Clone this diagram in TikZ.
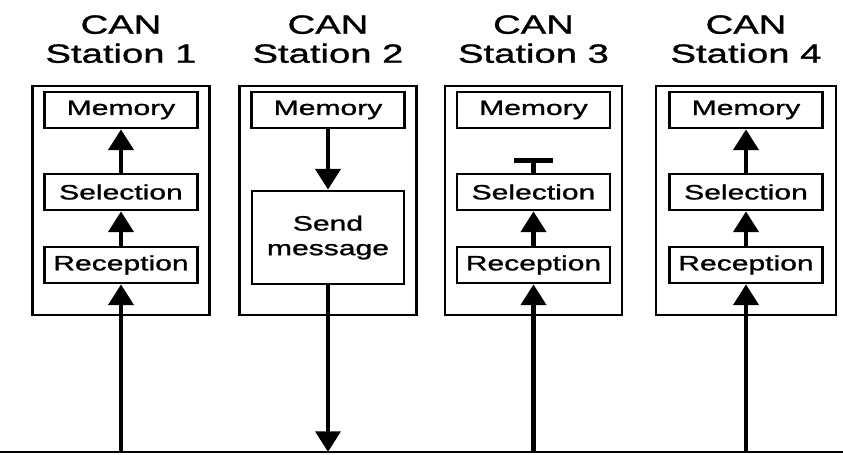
\documentclass[tikz,border=0pt]{standalone}
\usepackage{fontspec}
\newfontfamily\canfont[FakeStretch=1.45,FakeBold=1.2]{Liberation Sans}
\usetikzlibrary{arrows.meta}

\begin{document}
\begin{tikzpicture}[every node/.style={font=\canfont},
  station/.style={draw,line width=1.5pt,minimum width=3.54cm,minimum height=4.58cm,inner sep=0pt},
  unit/.style={draw,line width=1.5pt,minimum width=3.06cm,minimum height=0.72cm,inner sep=0pt,font=\canfont\fontsize{11.8}{14}\selectfont},
  title/.style={align=center,anchor=north,inner sep=0pt,font=\canfont\fontsize{15}{16.5}\selectfont},
  flow/.style={line width=2.8pt,-{Triangle[width=14pt,length=11.8pt]}}]
\useasboundingbox (0,0) rectangle (16.86,9.1);
% bus line
\coordinate (busL) at (0,0.06);
\coordinate (busR) at (16.86,0.06);
\draw[line width=1.2pt] (busL)--(busR);
\coordinate (bus1) at (2.42,0.06);
\coordinate (bus2) at (6.56,0.06);
\coordinate (bus3) at (10.67,0.06);
\coordinate (bus4) at (14.92,0.06);
% Station 1
\node[title] (title1) at (2.42,8.8) {CAN\\Station 1};
\node[station] (box1) at (2.42,5.09) {};
\node[unit] (mem1) at (2.42,6.9) {Memory};
\node[unit] (sel1) at (2.42,5.26) {Selection};
\node[unit] (rec1) at (2.42,3.8) {Reception};
\draw[flow] (bus1)--(rec1.south);
\draw[flow] (rec1.north)--(sel1.south);
\draw[flow] (sel1.north)--(mem1.south);
% Station 2 sends
\node[title] (title2) at (6.56,8.8) {CAN\\Station 2};
\node[station] (box2) at (6.56,5.09) {};
\node[unit] (mem2) at (6.56,6.9) {Memory};
\node[unit,minimum width=3.04cm,minimum height=1.86cm,align=center] (send2) at (6.56,4.35) {Send\\message};
\draw[flow] (mem2.south)--(send2.north);
\draw[flow] (send2.south)--(bus2);
% Station 3 rejects
\node[title] (title3) at (10.67,8.8) {CAN\\Station 3};
\node[station] (box3) at (10.67,5.09) {};
\node[unit] (mem3) at (10.67,6.9) {Memory};
\node[unit] (sel3) at (10.67,5.26) {Selection};
\node[unit] (rec3) at (10.67,3.8) {Reception};
\coordinate (tee3) at (10.67,5.94);
\draw[flow] (bus3)--(rec3.south);
\draw[flow] (rec3.north)--(sel3.south);
\draw[line width=2.8pt,-{Bar[width=22.7pt]}] (sel3.north)--(tee3);
% Station 4
\node[title] (title4) at (14.92,8.8) {CAN\\Station 4};
\node[station,minimum width=3.6cm] (box4) at (14.92,5.09) {};
\node[unit] (mem4) at (14.92,6.9) {Memory};
\node[unit] (sel4) at (14.92,5.26) {Selection};
\node[unit] (rec4) at (14.92,3.8) {Reception};
\draw[flow] (bus4)--(rec4.south);
\draw[flow] (rec4.north)--(sel4.south);
\draw[flow] (sel4.north)--(mem4.south);
\end{tikzpicture}
\end{document}
